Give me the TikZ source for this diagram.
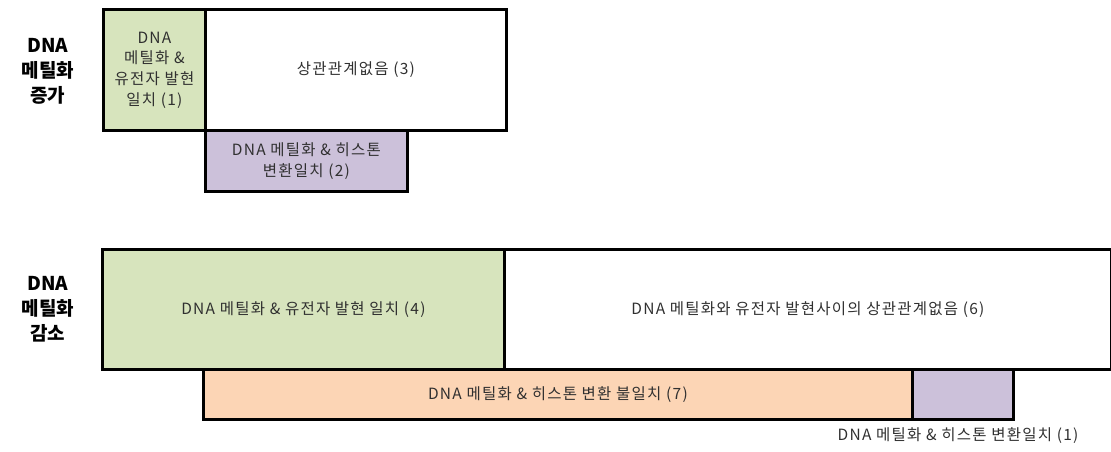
\documentclass[tikz,border=0pt]{standalone}
\usepackage{fontspec}
\setmainfont{Noto Sans CJK KR}
\definecolor{gfill}{HTML}{D7E4BD}
\definecolor{pfill}{HTML}{CCC1DA}
\definecolor{ofill}{HTML}{FCD5B5}
\definecolor{txt}{HTML}{303030}
\newcommand{\boxfont}{\fontsize{15.5}{20.7}\selectfont\addfontfeature{LetterSpace=8}}
\begin{document}
\begin{tikzpicture}[x=1pt,y=-1pt,
  box/.style={draw=black, line width=2.8pt, anchor=north west, inner sep=0pt, align=center,
    font=\boxfont, text=txt},
  side/.style={font=\fontsize{19}{25}\selectfont\bfseries, align=center, text=black}]
\useasboundingbox (0,0) rectangle (1111,451);
% top group
\node[box, fill=gfill, minimum width=102pt, minimum height=121pt] (g1) at (102,8) {DNA\\메틸화 \&\\유전자 발현\\일치 (1)};
\node[box, fill=white, minimum width=301pt, minimum height=121pt] (w1) at (204,8) {상관관계없음 (3)};
\node[box, fill=pfill, minimum width=202pt, minimum height=61pt] (p1) at (204,129) {DNA 메틸화 \& 히스톤\\변환일치 (2)};
\node[side] (l1) at (48,71) {DNA\\메틸화\\증가};
% bottom group
\node[box, fill=gfill, minimum width=402pt, minimum height=120pt] (g2) at (101,248) {DNA 메틸화 \& 유전자 발현 일치 (4)};
\node[box, fill=white, minimum width=607pt, minimum height=120pt] (w2) at (503,248) {DNA 메틸화와 유전자 발현사이의 상관관계없음 (6)};
\node[box, fill=ofill, minimum width=709pt, minimum height=50pt] (o2) at (202,368) {DNA 메틸화 \& 히스톤 변환 불일치 (7)};
\node[box, fill=pfill, minimum width=101pt, minimum height=50pt] (p2) at (911,368) {};
\node[font=\boxfont, text=txt, anchor=center] (l3) at (958,436) {DNA 메틸화 \& 히스톤 변환일치 (1)};
\node[side] (l2) at (48,309) {DNA\\메틸화\\감소};
\end{tikzpicture}
\end{document}
